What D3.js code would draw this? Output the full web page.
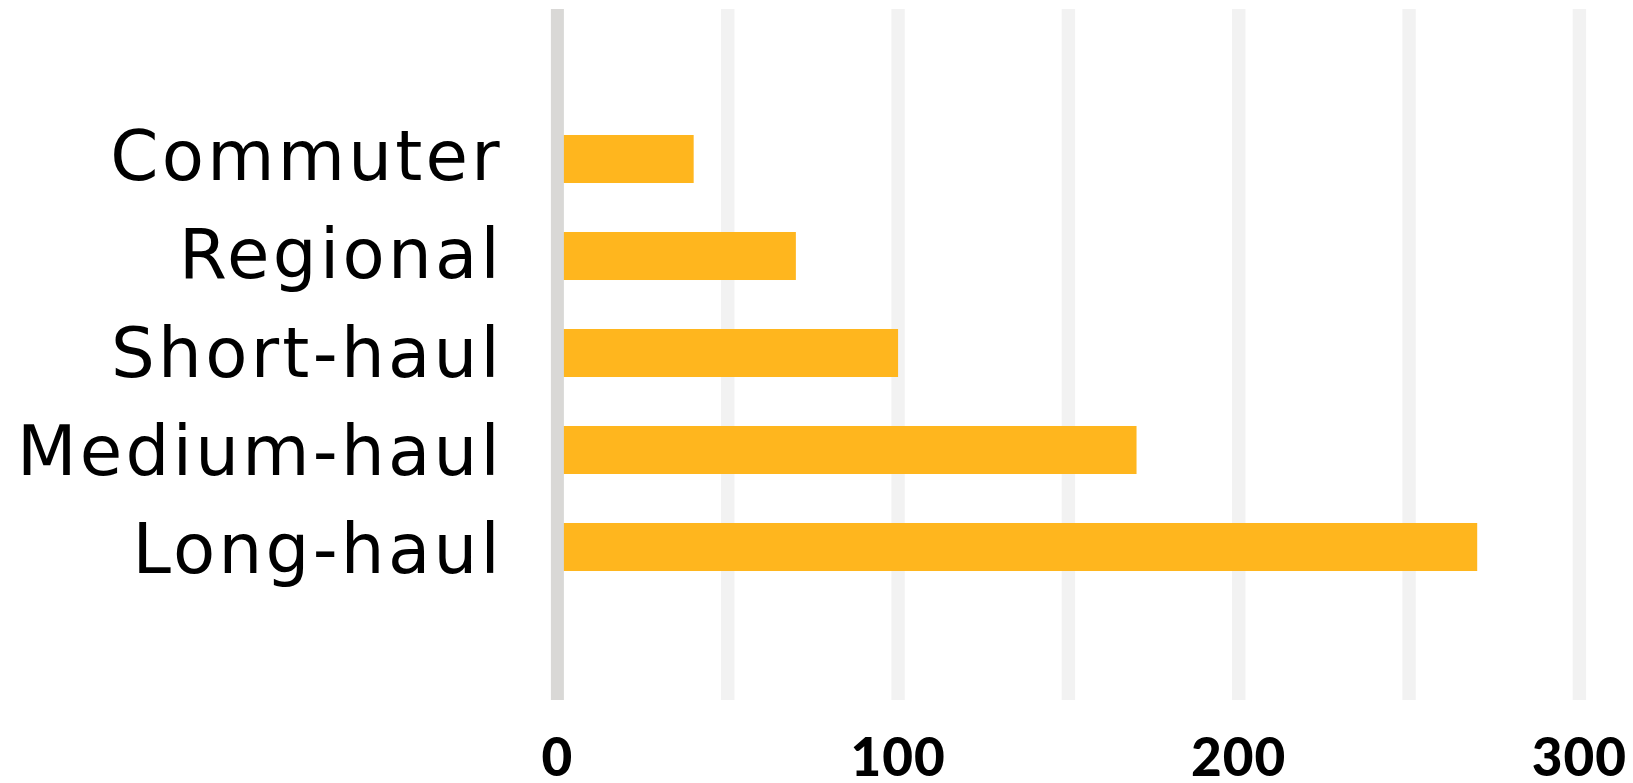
<!DOCTYPE html>
<html>
<head>
<meta charset="utf-8">
<script src="https://cdn.jsdelivr.net/npm/d3@7"></script>
<style>
  html, body { margin: 0; padding: 0; background: #ffffff; }
  svg { display: block; }
</style>
</head>
<body>
<svg id="chart" width="1633" height="783"></svg>
<script>
// ---- data ----
const categories = ["Commuter", "Regional", "Short-haul", "Medium-haul", "Long-haul"];
const values = [40, 70, 100, 170, 270];
const gridTicks = [0, 50, 100, 150, 200, 250, 300];
const tickLabels = [0, 100, 200, 300];

// ---- layout ----
const W = 1633, H = 783;
const svg = d3.select("#chart");

const x = d3.scaleLinear().domain([0, 300]).range([557.4, 1579.4]);
const y = d3.scaleBand().domain(categories).range([110.5, 595.5])
  .paddingInner(0.505).paddingOuter(0.2525);
const yLabel = d3.scalePoint().domain(categories).range([180, 573]);

const gridTop = 9, gridBottom = 700;

// gridlines
svg.append("g").selectAll("line")
  .data(gridTicks.filter(d => d !== 0))
  .join("line")
  .attr("x1", d => x(d)).attr("x2", d => x(d))
  .attr("y1", gridTop).attr("y2", gridBottom)
  .attr("stroke", "#f2f2f2")
  .attr("stroke-width", 13.4);

// bars
svg.append("g").selectAll("rect")
  .data(categories)
  .join("rect")
  .attr("x", x(0))
  .attr("y", d => y(d))
  .attr("width", (d, i) => x(values[i]) - x(0))
  .attr("height", y.bandwidth())
  .attr("fill", "#ffb61e");

// zero line
svg.append("line")
  .attr("x1", x(0)).attr("x2", x(0))
  .attr("y1", gridTop).attr("y2", gridBottom)
  .attr("stroke", "#d9d8d6")
  .attr("stroke-width", 13);

// category labels
svg.append("g").selectAll("text")
  .data(categories)
  .join("text")
  .attr("x", 503)
  .attr("y", d => yLabel(d))
  .attr("text-anchor", "end")
  .attr("font-family", "'DejaVu Sans', sans-serif")
  .attr("font-size", 69)
  .attr("letter-spacing", "3.3px")
  .attr("fill", "#000")
  .text(d => d);

// x tick labels
svg.append("g").selectAll("text")
  .data(tickLabels)
  .join("text")
  .attr("x", d => x(d))
  .attr("y", 776)
  .attr("text-anchor", "middle")
  .attr("font-family", "Lato, sans-serif")
  .attr("font-weight", 900)
  .attr("font-size", 53)
  .attr("letter-spacing", "1px")
  .attr("fill", "#000")
  .text(d => d);
</script>
</body>
</html>
